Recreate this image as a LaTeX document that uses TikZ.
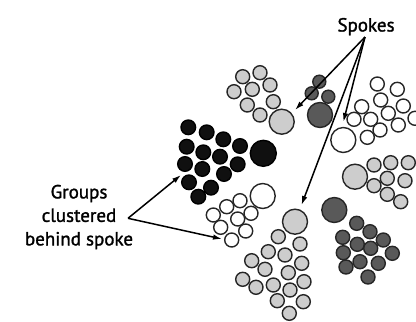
\documentclass[tikz,border=0pt]{standalone}
\usepackage{fontspec}
\setmainfont{PT Sans}
\newfontfamily\lblfont[FakeBold=1.4]{PT Sans}
\usetikzlibrary{arrows.meta}
\definecolor{ring}{HTML}{262626}
\definecolor{lgray}{HTML}{CDCDCD}
\definecolor{dgray}{HTML}{595959}
\definecolor{blk}{HTML}{101010}
\begin{document}
\begin{tikzpicture}[x=1pt,y=-1pt,
  bub/.style={draw=ring,line width=1.4pt},
  lg/.style={bub,fill=lgray},
  wh/.style={bub,fill=white},
  dk/.style={bub,fill=dgray},
  bk/.style={bub,draw=black,fill=blk},
  spoke/.style={circle,inner sep=0pt,minimum size=25pt},
  arr/.style={-{Latex[length=9pt,width=5.5pt]},line width=1.5pt},
  lbl/.style={font=\lblfont\fontsize{19}{23.5}\selectfont,align=center,inner sep=0pt}]
\useasboundingbox (0,0) rectangle (416,322);
% top light gray cluster
\foreach \p in {(242.7,76.7),(260,72.7),(270,85),(234,91.7),(252.3,89.3),(273.3,101.7),(247.3,105),(260,115)}
  \draw[lg] \p circle[radius=7pt];
\node[spoke,lg] (s1) at (281.7,121.7) {};
% small dark gray trio
\foreach \p in {(319.3,81.7),(311.7,93.3),(328.3,96.7)}
  \draw[dk] \p circle[radius=6.5pt];
\node[spoke,dk] (s2) at (320,115) {};
% right white cluster
\foreach \p in {(377.3,84),(397.3,89.3),(380.7,100),(403.3,106),(361.7,106.7),(388.3,113.3),(370.7,119.3),(354,119.3),(398.3,125),(380,130),(367.3,137.3),(415,118.3)}
  \draw[wh] \p circle[radius=7pt];
\node[spoke,wh] (s3) at (343.3,140) {};
% black cluster
\foreach \p in {(188.3,127.3),(206.7,132.3),(223.3,139.3),(240,146),(186.7,146.7),(203.3,152.3),(220,156.7),(237.7,164.3),(185,164),(202.3,169),(224,174),(189,182.3),(211,187.7),(198.3,196.7)}
  \draw[bk] \p circle[radius=7.3pt];
\node[spoke,bk,minimum size=26pt] (s4) at (263.3,153.3) {};
% right light gray cluster
\foreach \p in {(374,165),(390.7,162.7),(408.3,162.7),(387.3,178.3),(405,180.7),(374,185.7),(387.3,194.3),(400.7,201.7)}
  \draw[lg] \p circle[radius=7pt];
\node[spoke,lg] (s5) at (355,176.7) {};
% lower-left white cluster
\foreach \p in {(226.7,206.7),(240,200.7),(213.3,215),(251,213.3),(237.7,219),(220.7,227.3),(245.7,231),(231.7,240)}
  \draw[wh] \p circle[radius=7pt];
\node[spoke,wh] (s6) at (262.7,196) {};
% bottom light gray cluster
\foreach \p in {(278.3,236.7),(300,244),(268.3,251.7),(285,255),(251.7,260.7),(301.7,263.3),(265,269.3),(288.3,272.7),(242.7,279.3),(273.3,285),(304,281.7),(256,287.3),(290,290),(277.3,300.7),(303.3,301.7),(289.3,313.3)}
  \draw[lg] \p circle[radius=7pt];
\node[spoke,lg] (s7) at (295,221.7) {};
% dark gray cluster
\foreach \p in {(356.7,223.3),(370,231.7),(342.7,237.3),(383.3,240),(357.3,244.3),(370.7,248.3),(392.3,253.3),(343.3,252.7),(360,261.7),(378.3,263.3),(346,267),(368,277)}
  \draw[dk] \p circle[radius=7pt];
\node[spoke,dk] (s8) at (334.3,210) {};
% labels
\node[lbl,anchor=base] (spk) at (366,31.5) {Spokes};
\node[lbl] (grp) at (79,217) {Groups\\clustered\\behind spoke};
% arrows
\coordinate (sa) at (365,37);
\coordinate (ga) at (128,218.3);
\coordinate (t1) at (295,110);
\coordinate (t3) at (343.3,122);
\coordinate (t7) at (301.5,205);
\coordinate (t4) at (181,175);
\coordinate (t6) at (222,239);
\draw[arr] (sa) -- (t1);
\draw[arr] (sa) -- (t3);
\draw[arr] (sa) -- (t7);
\draw[arr] (ga) -- (t4);
\draw[arr] (ga) -- (t6);
\end{tikzpicture}
\end{document}
